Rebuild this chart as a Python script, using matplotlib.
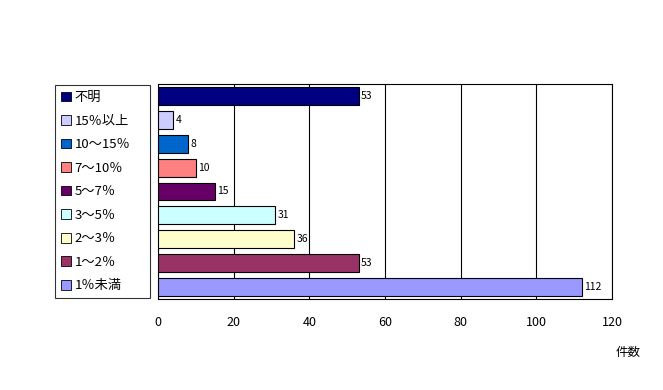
import matplotlib
matplotlib.use('Agg')
import matplotlib.pyplot as plt
from matplotlib.patches import Patch

plt.rcParams['font.family'] = ['Noto Sans CJK JP', 'DejaVu Sans']

# データ（上から順）
labels = ['不明', '15％以上', '10～15％', '7～10％', '5～7％', '3～5％', '2～3％', '1～2％', '1％未満']
counts = [53, 4, 8, 10, 15, 31, 36, 53, 112]
colors = ['#000080', '#CCCCFF', '#0066CC', '#FF8080', '#660066',
          '#CCFFFF', '#FFFFCC', '#993366', '#9999FF']
xticks = [0, 20, 40, 60, 80, 100, 120]

fig = plt.figure(figsize=(6.63, 3.9), dpi=100)
ax = fig.add_axes([158/663, 1-299/390, 454/663, 215/390])

y = list(range(len(labels)))[::-1]
ax.barh(y, counts, height=0.75, color=colors, edgecolor='black', linewidth=0.8, zorder=3)
for yi, v in zip(y, counts):
    ax.text(v + 0.6, yi, str(v), va='center', ha='left', fontsize=7.5)

ax.set_xlim(0, 120)
ax.set_ylim(-0.5, len(labels) - 0.5)
ax.set_xticks(xticks)
ax.set_xticklabels([str(t) for t in xticks], fontsize=9)
ax.tick_params(axis='x', length=0, pad=12)
ax.set_yticks([])
ax.grid(axis='x', color='black', linewidth=0.8, zorder=0)
for s in ax.spines.values():
    s.set_linewidth(0.8)

fig.text(628/663, 1-352/390, '件数', ha='center', va='center', fontsize=9)

# 凡例
handles = [Patch(facecolor=c, edgecolor='black', linewidth=0.6) for c in colors]
leg = fig.legend(handles, labels, loc='upper left',
                 bbox_to_anchor=(55/663, 1-298/390, 95/663, 213/390), mode='expand',
                 borderaxespad=0, fancybox=False, edgecolor='black', fontsize=9.5,
                 handlelength=0.75, handleheight=0.75, handletextpad=0.3,
                 labelspacing=0.8, borderpad=0.45)
leg.get_frame().set_linewidth(0.8)

fig.savefig('out.png', dpi=100)
